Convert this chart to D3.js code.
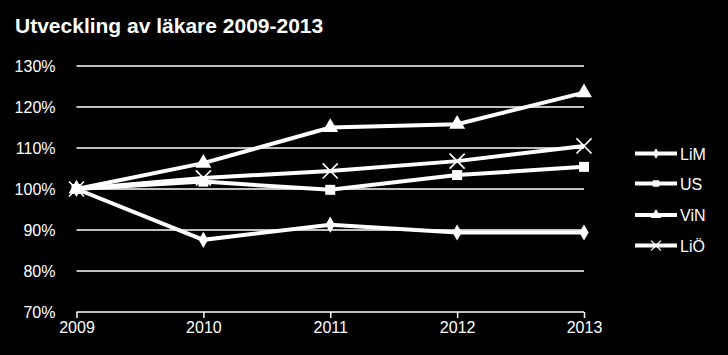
<!DOCTYPE html>
<html><head><meta charset="utf-8">
<script src="https://cdn.jsdelivr.net/npm/d3@7"></script>
<style>html,body{margin:0;padding:0;background:#000;}svg{display:block;}</style>
</head><body>
<svg id="c" width="728" height="355"></svg>
<script>
const years = ["2009","2010","2011","2012","2013"];
const yTicks = [0.7,0.8,0.9,1.0,1.1,1.2,1.3];
const seriesNames = ["LiM","US","ViN","LiÖ"];
const LiM = [1.000,0.876,0.913,0.894,0.894];
const US  = [1.000,1.018,0.998,1.034,1.054];
const ViN = [1.000,1.063,1.150,1.158,1.235];
const LiO = [1.000,1.027,1.044,1.068,1.105];
const markers = ["diamond","square","triangle","cross"];

const data = [LiM,US,ViN,LiO];
const svg = d3.select("#c");
const font = "'Liberation Sans', Arial, sans-serif";
svg.append("rect").attr("width",728).attr("height",355).attr("fill","#000");

const x = d3.scalePoint().domain(years).range([76.5,584]);
const y = d3.scaleLinear().domain([0.7,1.3]).range([312,66]);

svg.append("text").attr("x",15).attr("y",33).attr("fill","#fff")
  .attr("font-family",font).attr("font-weight","bold").attr("font-size",21)
  .text("Utveckling av läkare 2009-2013");

// gridlines
const g = svg.append("g");
g.selectAll("line.grid").data(yTicks.filter(t=>t>0.7)).join("line")
  .attr("x1",76.5).attr("x2",584).attr("y1",d=>y(d)).attr("y2",d=>y(d))
  .attr("stroke","#fff").attr("stroke-width",1.3);

const yAxis = d3.axisLeft(y).tickValues(yTicks).tickFormat(d3.format(".0%")).tickSize(0).tickPadding(21);
const ya = svg.append("g").attr("transform","translate(76.5,0)").call(yAxis);
ya.select(".domain").remove();
ya.selectAll("text").attr("fill","#fff").attr("font-family",font).attr("font-size",16);

const xAxis = d3.axisBottom(x).tickSize(6).tickPadding(4).tickSizeOuter(0);
const xa = svg.append("g").attr("transform","translate(0,312)").call(xAxis);
xa.select(".domain").attr("stroke","#fff").attr("stroke-width",1.5).attr("d","M76.5,0H584");
xa.selectAll(".tick line").attr("stroke","#fff").attr("stroke-width",1.5);
xa.selectAll("text").attr("fill","#fff").attr("font-family",font).attr("font-size",16);

const symType = {diamond:d3.symbolDiamond, square:d3.symbolSquare, triangle:d3.symbolTriangle, cross:d3.symbolX};
function drawMarker(sel, m, scale){
  if(m==="cross"){
    sel.append("path").attr("d",d3.symbol(d3.symbolX, 150*scale*scale)())
      .attr("fill","none").attr("stroke","#fff").attr("stroke-width",1.6*Math.sqrt(scale));
  } else {
    const sizes = {diamond:75, square:100, triangle:110};
    sel.append("path").attr("d",d3.symbol(symType[m], sizes[m]*scale*scale)()).attr("fill","#fff");
  }
}

const line = d3.line().x((d,i)=>x(years[i])).y(d=>y(d));
data.forEach((s,k)=>{
  svg.append("path").attr("d",line(s)).attr("fill","none").attr("stroke","#fff").attr("stroke-width",4);
});
data.forEach((s,k)=>{
  s.forEach((v,i)=>{
    const gg = svg.append("g").attr("transform",`translate(${x(years[i])},${y(v)})`);
    drawMarker(gg, markers[k], 1);
  });
});

// legend
const legY = [153.5,183.5,215,245.5];
seriesNames.forEach((n,k)=>{
  const lg = svg.append("g").attr("transform",`translate(0,${legY[k]})`);
  lg.append("line").attr("x1",635).attr("x2",677).attr("y1",0).attr("y2",0)
    .attr("stroke","#fff").attr("stroke-width",4);
  const mg = lg.append("g").attr("transform","translate(656,0)");
  drawMarker(mg, markers[k], 0.65);
  lg.append("text").attr("x",680).attr("y",6).attr("fill","#fff")
    .attr("font-family",font).attr("font-size",16).text(n);
});
</script>
</body></html>
